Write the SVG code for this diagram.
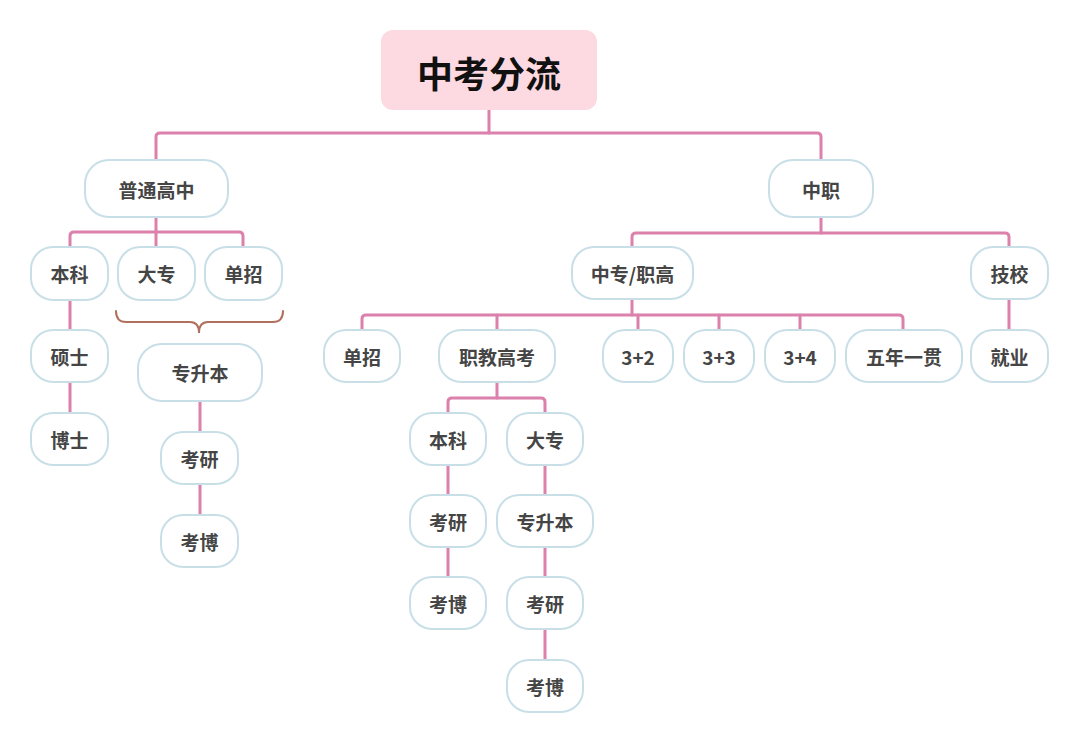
<svg xmlns="http://www.w3.org/2000/svg" width="1080" height="742" viewBox="0 0 1080 742">
<style>
.n rect{fill:#ffffff;stroke:#c9dfe8;stroke-width:2}
.n text{font-family:"Noto Sans CJK SC","Noto Sans",sans-serif;font-weight:bold;font-size:19px;fill:#454545;text-anchor:middle;dominant-baseline:central}
.c path{fill:none;stroke:#dc80ac;stroke-width:3;stroke-linecap:round}
#root rect{fill:#fdd9e1;stroke:none}
#root text{font-size:36px;fill:#111111}
.brace{fill:none;stroke:#b0705e;stroke-width:2;stroke-linecap:round}
</style>
<rect width="1080" height="742" fill="#ffffff"/>
<g class="c" id="connectors">
<path d="M489,110 V133"/>
<path d="M156,160 V137 Q156,133 160,133 H817 Q821,133 821,137 V160"/>
<path d="M156,217 V247"/>
<path d="M70,247 V236 Q70,232 74,232 H239 Q243,232 243,236 V247"/>
<path d="M70,300 V330"/>
<path d="M70,382 V413"/>
<path d="M200,401 V432"/>
<path d="M200,484 V515"/>
<path d="M821,217 V233"/>
<path d="M632,247 V237 Q632,233 636,233 H1005 Q1009,233 1009,237 V247"/>
<path d="M632,299 V315"/>
<path d="M362,330 V319 Q362,315 366,315 H899 Q903,315 903,319 V330"/>
<path d="M497,315 V330"/>
<path d="M638,315 V330"/>
<path d="M719,315 V330"/>
<path d="M800,315 V330"/>
<path d="M1009,299 V330"/>
<path d="M497,382 V398"/>
<path d="M448,413 V402 Q448,398 452,398 H541 Q545,398 545,402 V413"/>
<path d="M448,465 V495"/>
<path d="M448,547 V577"/>
<path d="M545,465 V495"/>
<path d="M545,547 V577"/>
<path d="M545,629 V660"/>
</g>
<path class="brace" d="M116,311 Q116,322 126,322 H190 Q199,322 199,333 Q199,322 208,322 H273 Q283,322 283,311"/>
<g class="n" id="root"><rect x="381" y="30" width="216" height="80" rx="12"/><text x="489" y="72">中考分流</text></g>
<g class="n" id="putonggaozhong"><rect x="85" y="160" width="143" height="57" rx="24"/><text x="156.5" y="189">普通高中</text></g>
<g class="n" id="zhongzhi"><rect x="769" y="160" width="104" height="57" rx="24"/><text x="821" y="189">中职</text></g>
<g class="n" id="benke1"><rect x="31" y="247" width="77" height="53" rx="22"/><text x="69.5" y="273.5">本科</text></g>
<g class="n" id="dazhuan1"><rect x="118" y="247" width="77" height="53" rx="22"/><text x="156.5" y="273.5">大专</text></g>
<g class="n" id="danzhao1"><rect x="205" y="247" width="77" height="53" rx="22"/><text x="243.5" y="273.5">单招</text></g>
<g class="n" id="shuoshi"><rect x="31" y="330" width="77" height="52" rx="22"/><text x="69.5" y="356">硕士</text></g>
<g class="n" id="boshi"><rect x="31" y="413" width="77" height="52" rx="22"/><text x="69.5" y="439">博士</text></g>
<g class="n" id="zhuanshengben1"><rect x="138" y="344" width="124" height="57" rx="24"/><text x="200" y="372.5">专升本</text></g>
<g class="n" id="kaoyan1"><rect x="161" y="432" width="77" height="52" rx="22"/><text x="199.5" y="458">考研</text></g>
<g class="n" id="kaobo1"><rect x="161" y="515" width="77" height="52" rx="22"/><text x="199.5" y="541">考博</text></g>
<g class="n" id="zhongzhuan"><rect x="572" y="247" width="121" height="52" rx="22"/><text x="632.5" y="273">中专/职高</text></g>
<g class="n" id="jixiao"><rect x="971" y="247" width="77" height="52" rx="22"/><text x="1009.5" y="273">技校</text></g>
<g class="n" id="danzhao2"><rect x="324" y="330" width="76" height="52" rx="22"/><text x="362" y="356">单招</text></g>
<g class="n" id="zhijiaogaokao"><rect x="439" y="330" width="116" height="52" rx="22"/><text x="497" y="356">职教高考</text></g>
<g class="n" id="n32"><rect x="603" y="330" width="70" height="52" rx="22"/><text x="638" y="356">3+2</text></g>
<g class="n" id="n33"><rect x="684" y="330" width="70" height="52" rx="22"/><text x="719" y="356">3+3</text></g>
<g class="n" id="n34"><rect x="765" y="330" width="70" height="52" rx="22"/><text x="800" y="356">3+4</text></g>
<g class="n" id="wunian"><rect x="846" y="330" width="116" height="52" rx="22"/><text x="904" y="356">五年一贯</text></g>
<g class="n" id="jiuye"><rect x="971" y="330" width="77" height="52" rx="22"/><text x="1009.5" y="356">就业</text></g>
<g class="n" id="benke2"><rect x="410" y="413" width="76" height="52" rx="22"/><text x="448" y="439">本科</text></g>
<g class="n" id="dazhuan2"><rect x="507" y="413" width="76" height="52" rx="22"/><text x="545" y="439">大专</text></g>
<g class="n" id="kaoyan2"><rect x="410" y="495" width="76" height="52" rx="22"/><text x="448" y="521">考研</text></g>
<g class="n" id="zhuanshengben2"><rect x="497" y="495" width="96" height="52" rx="22"/><text x="545" y="521">专升本</text></g>
<g class="n" id="kaobo2"><rect x="410" y="577" width="76" height="52" rx="22"/><text x="448" y="603">考博</text></g>
<g class="n" id="kaoyan3"><rect x="507" y="577" width="76" height="52" rx="22"/><text x="545" y="603">考研</text></g>
<g class="n" id="kaobo3"><rect x="507" y="660" width="76" height="52" rx="22"/><text x="545" y="686">考博</text></g>
</svg>
